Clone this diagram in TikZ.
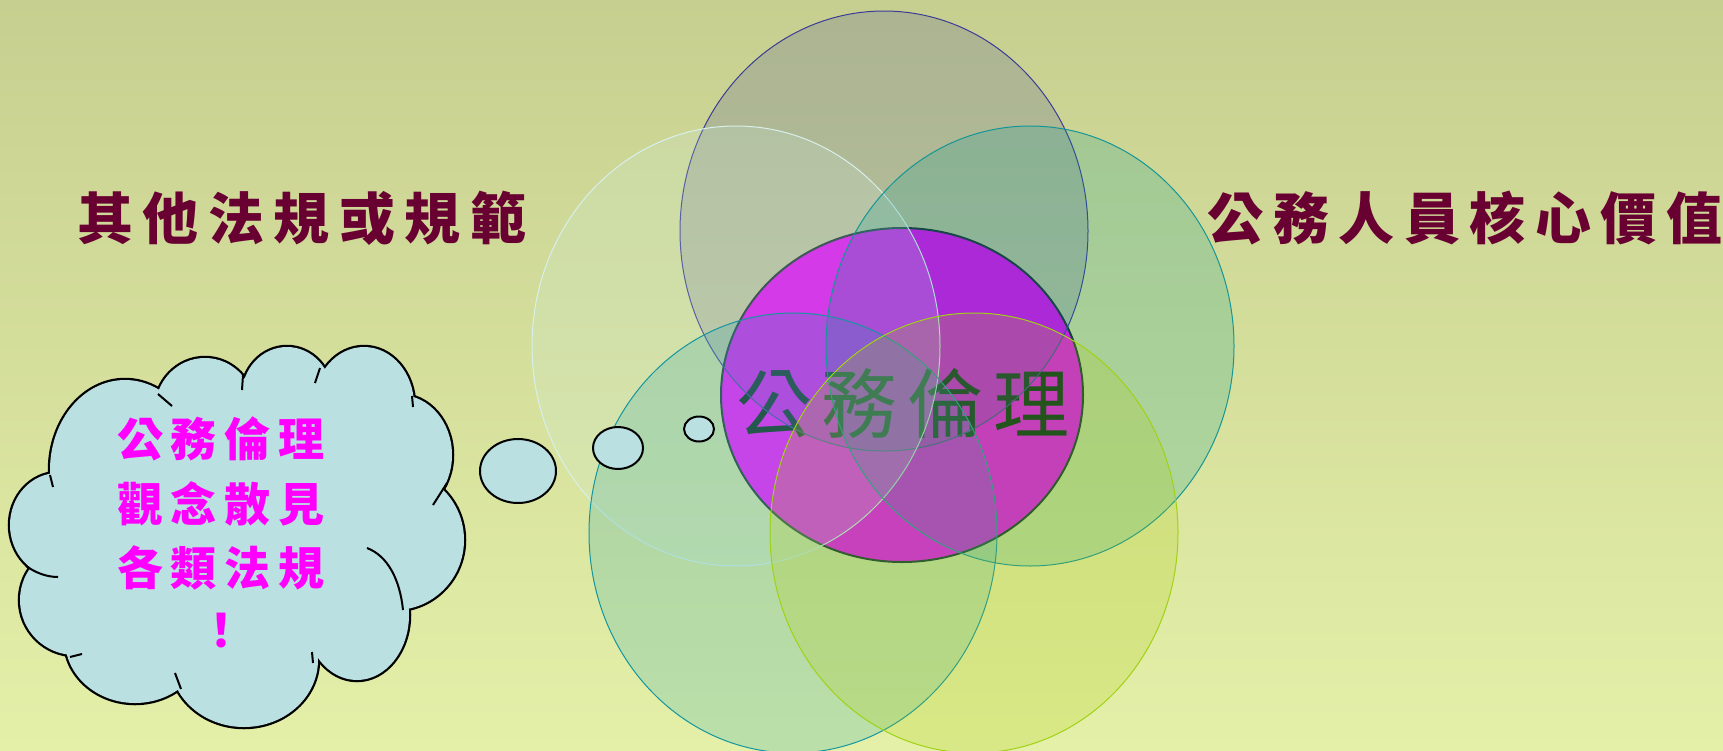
\documentclass[tikz,border=0pt]{standalone}
\usepackage{fontspec}
\newfontfamily\cjk{Noto Sans CJK TC}
\definecolor{bgtop}{RGB}{199,207,144}
\definecolor{bgbot}{RGB}{228,240,168}
\definecolor{ctop}{RGB}{62,70,152}
\definecolor{ctopd}{RGB}{60,60,150}
\definecolor{cul}{RGB}{204,237,228}
\definecolor{culd}{RGB}{215,240,235}
\definecolor{cur}{RGB}{0,152,148}
\definecolor{curd}{RGB}{20,150,150}
\definecolor{cll}{RGB}{22,159,176}
\definecolor{clld}{RGB}{20,150,160}
\definecolor{clr}{RGB}{172,204,0}
\definecolor{clrd}{RGB}{160,210,20}
\definecolor{magen}{RGB}{252,0,253}
\definecolor{mline}{RGB}{20,45,30}
\definecolor{ctext}{RGB}{0,30,8}
\definecolor{maroon}{RGB}{104,0,50}
\definecolor{cloudfill}{RGB}{186,224,226}
\definecolor{pinktext}{RGB}{255,0,255}
\tikzset{
  venn/.style={line width=1pt, fill opacity=0.2, draw opacity=1},
  lbl/.style={inner sep=0pt, text=maroon, font=\cjk\bfseries\fontsize{56}{60}\selectfont},
  cloudtxt/.style={inner sep=0pt, text=pinktext, font=\cjk\bfseries\fontsize{46}{52}\selectfont},
  centertxt/.style={inner sep=0pt, text=ctext, font=\cjk\fontsize{76}{80}\selectfont},
  bubble/.style={draw=black, line width=2pt, fill=cloudfill},
  stub/.style={draw=black, line width=2pt},
}
\begin{document}
\begin{tikzpicture}[x=1pt,y=-1pt]
\useasboundingbox (0,0) rectangle (1723,750);
\shade[top color=bgtop, bottom color=bgbot] (0,0) rectangle (1723,750);

% central ellipse and its text (beneath the translucent circles)
\filldraw[fill=magen, draw=mline, line width=2pt] (902,395) ellipse [x radius=181pt, y radius=167pt];
\node[centertxt] (center) at (903,403) {公\hspace{10pt}務\hspace{10pt}倫\hspace{10pt}理};

% venn circles
\filldraw[venn, fill=ctop, draw=ctopd] (884,231) ellipse [x radius=204pt, y radius=220pt];
\filldraw[venn, fill=cul, draw=culd] (736,346) ellipse [x radius=204pt, y radius=220pt];
\filldraw[venn, fill=cur, draw=curd] (1030,346) ellipse [x radius=204pt, y radius=220pt];
\filldraw[venn, fill=cll, draw=clld] (793,533) ellipse [x radius=204pt, y radius=220pt];
\filldraw[venn, fill=clr, draw=clrd] (974,533) ellipse [x radius=204pt, y radius=220pt];

% labels
\node[lbl] (left) at (302,218) {其\hspace{9.5pt}他\hspace{9.5pt}法\hspace{9.5pt}規\hspace{9.5pt}或\hspace{9.5pt}規\hspace{9.5pt}範};
\node[lbl] (right) at (1465,218) {公\hspace{9.5pt}務\hspace{9.5pt}人\hspace{9.5pt}員\hspace{9.5pt}核\hspace{9.5pt}心\hspace{9.5pt}價\hspace{9.5pt}值};

% cloud
\foreach \cx/\cy/\rx/\ry in {58/525/48/52, 125/470/75/90, 205/410/50/52, 287/395/45/48, 364/405/50/58, 400/455/52/60, 395/540/69/70, 357/615/52/65, 244/660/74/67, 135/640/70/63, 75/600/55/55}
  \draw[line width=4.5pt, black] (\cx,\cy) ellipse [x radius=\rx pt, y radius=\ry pt];
\foreach \cx/\cy/\rx/\ry in {58/525/48/52, 125/470/75/90, 205/410/50/52, 287/395/45/48, 364/405/50/58, 400/455/52/60, 395/540/69/70, 357/615/52/65, 244/660/74/67, 135/640/70/63, 75/600/55/55, 240/530/170/140}
  \fill[cloudfill] (\cx,\cy) ellipse [x radius=\rx pt, y radius=\ry pt];
\draw[stub] (50,475) -- (53,487);
\draw[stub] (158,394) -- (172,406);
\draw[stub] (243,375) -- (242,390);
\draw[stub] (320,368) -- (315,383);
\draw[stub] (412,396) -- (413,407);
\draw[stub] (447,483) -- (433,505);
\draw[stub] (367,548) .. controls (388,556) and (400,580) .. (403,610);
\draw[stub] (312,652) -- (313,663);
\draw[stub] (175,673) -- (181,689);
\draw[stub] (82,654) -- (70,657);
\draw[stub] (26,566) .. controls (36,573) and (47,577) .. (58,577);

% bubbles
\draw[bubble] (518,471) ellipse [x radius=38pt, y radius=32pt];
\draw[bubble] (618,448) ellipse [x radius=25pt, y radius=21pt];
\draw[bubble] (699,429) ellipse [x radius=15pt, y radius=12.5pt];

% cloud text
\node[cloudtxt] (c1) at (221,439) {公\hspace{8pt}務\hspace{8pt}倫\hspace{8pt}理};
\node[cloudtxt] (c2) at (221,504) {觀\hspace{8pt}念\hspace{8pt}散\hspace{8pt}見};
\node[cloudtxt] (c3) at (221,568) {各\hspace{8pt}類\hspace{8pt}法\hspace{8pt}規};
\node[cloudtxt] (c4) at (221,631) {！};
\end{tikzpicture}
\end{document}
